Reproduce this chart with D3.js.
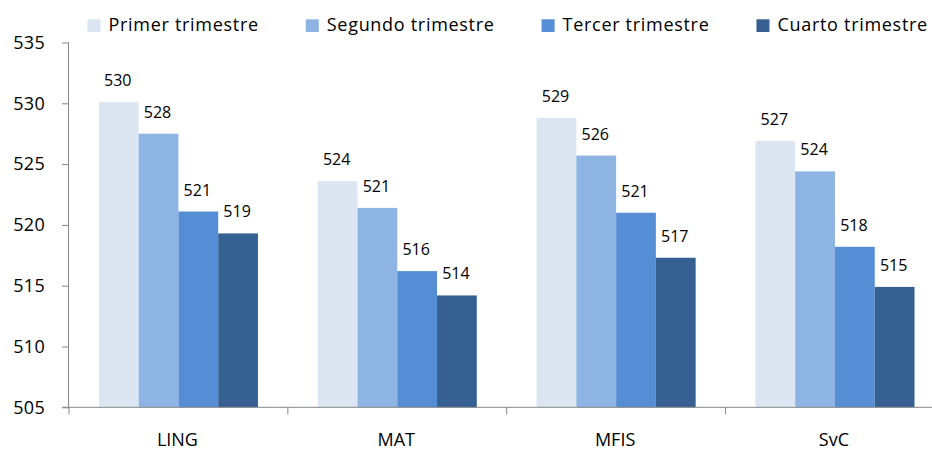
<!DOCTYPE html>
<html><head><meta charset="utf-8">
<script src="https://cdn.jsdelivr.net/npm/d3@7"></script>
<style>
html,body{margin:0;padding:0;background:#fff;overflow:hidden}
text{font-family:"Open Sans",sans-serif;fill:#000}
</style></head>
<body><svg id="c" width="932" height="451"></svg>
<script>
const categories = ["LING", "MAT", "MFIS", "SvC"];
const seriesNames = ["Primer trimestre", "Segundo trimestre", "Tercer trimestre", "Cuarto trimestre"];
const primer  = [530.1, 523.6, 528.8, 526.9];
const segundo = [527.5, 521.4, 525.7, 524.4];
const tercer  = [521.1, 516.2, 521.0, 518.2];
const cuarto  = [519.3, 514.2, 517.3, 514.9];
const yTicks = [505, 510, 515, 520, 525, 530, 535];
const colors = ["#DCE6F2", "#8EB4E3", "#558ED5", "#376092"];

(function () {
const series = [primer, segundo, tercer, cuarto];
const svg = d3.select("#c");
const mLeft = 69, mBottom = 407.3, mTop = 42.5, step = 218.85;
const mRight = mLeft + step * categories.length;

const x = d3.scaleBand().domain(categories).range([mLeft, mRight]).padding(0);
const x1 = d3.scaleBand().domain(d3.range(series.length))
  .range([29.9, x.bandwidth() - 29.9]).padding(0);
const y = d3.scaleLinear().domain([505, 535]).range([mBottom, mTop]);

// bars
const g = svg.append("g");
categories.forEach((c, ci) => {
  series.forEach((s, si) => {
    const v = s[ci];
    g.append("rect")
      .attr("x", x(c) + x1(si))
      .attr("y", y(v))
      .attr("width", x1.bandwidth())
      .attr("height", mBottom - y(v))
      .attr("fill", colors[si]);
    g.append("text")
      .attr("x", x(c) + x1(si) + x1.bandwidth() / 2 - 1)
      .attr("y", y(v) - 16)
      .attr("text-anchor", "middle")
      .style("font-size", "16px")
      .text(Math.round(v));
  });
});

// y axis
const ya = svg.append("g").attr("transform", `translate(${mLeft},0)`)
  .call(d3.axisLeft(y).tickValues(yTicks).tickSize(7).tickPadding(17).tickFormat(d3.format("d")));
ya.select(".domain").attr("stroke", "#868686").attr("d", `M-0.5,${mTop}V${mBottom}`);
ya.selectAll(".tick line").attr("stroke", "#868686");
ya.selectAll(".tick text").style("font-size", "18px").style("letter-spacing", "0.3px")
  .attr("fill", "#000");
ya.attr("font-family", null).attr("font-size", null);

// x axis
svg.append("line").attr("x1", mLeft - 7).attr("x2", mRight).attr("y1", mBottom).attr("y2", mBottom)
  .attr("stroke", "#868686");
const bounds = categories.map(c => x(c)).concat([mRight]);
svg.selectAll(".xt").data(bounds).enter().append("line")
  .attr("x1", d => d).attr("x2", d => d).attr("y1", mBottom).attr("y2", mBottom + 7)
  .attr("stroke", "#868686");
svg.selectAll(".xl").data(categories).enter().append("text")
  .attr("x", d => x(d) + x.bandwidth() / 2 - 1)
  .attr("y", 446)
  .attr("text-anchor", "middle")
  .style("font-size", "18px")
  .text(d => d);

// legend
let lx = 87.5;
seriesNames.forEach((n, i) => {
  svg.append("rect").attr("x", lx).attr("y", 19.3).attr("width", 13).attr("height", 12.7).attr("fill", colors[i]);
  const t = svg.append("text").attr("x", lx + 21).attr("y", 30.7)
    .style("font-size", "18px").style("letter-spacing", "0.7px").text(n);
  lx = lx + 21 + t.node().getComputedTextLength() + 47;
});
})();
</script></body></html>
